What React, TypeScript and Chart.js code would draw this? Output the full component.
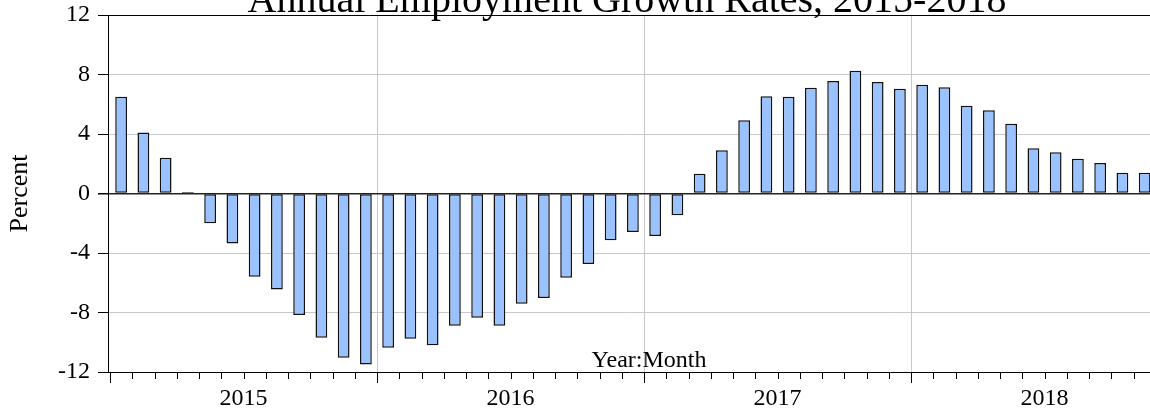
import React, { useEffect, useRef } from 'react';
import { Chart, registerables } from 'chart.js';

Chart.register(...registerables);

const months: string[] = [
  '2015-01', '2015-02', '2015-03', '2015-04', '2015-05', '2015-06', '2015-07', '2015-08', '2015-09', '2015-10', '2015-11', '2015-12',
  '2016-01', '2016-02', '2016-03', '2016-04', '2016-05', '2016-06', '2016-07', '2016-08', '2016-09', '2016-10', '2016-11', '2016-12',
  '2017-01', '2017-02', '2017-03', '2017-04', '2017-05', '2017-06', '2017-07', '2017-08', '2017-09', '2017-10', '2017-11', '2017-12',
  '2018-01', '2018-02', '2018-03', '2018-04', '2018-05', '2018-06', '2018-07', '2018-08', '2018-09', '2018-10', '2018-11',
];

const growth: number[] = [
  6.5, 4.1, 2.4, 0.1, -2.0, -3.36, -5.6, -6.45, -8.17, -9.7, -11.04, -11.5,
  -10.37, -9.76, -10.2, -8.89, -8.35, -8.89, -7.41, -7.03, -5.66, -4.74, -3.15, -2.59,
  -2.86, -1.47, 1.33, 2.9, 4.92, 6.53, 6.5, 7.11, 7.56, 8.26, 7.5, 7.05,
  7.31, 7.14, 5.9, 5.59, 4.69, 3.04, 2.77, 2.34, 2.05, 1.4, 1.4,
];

const yearLabels: string[] = ['2015', '2016', '2017', '2018'];
const yearLabelAt: number[] = [6, 18, 30, 42];
const yearBoundaries: number[] = [12, 24, 36];
const yTickValues: number[] = [-12, -8, -4, 0, 4, 8, 12];

const TITLE = 'Annual Employment Growth Rates, 2015-2018';
const X_TITLE = 'Year:Month';
const Y_TITLE = 'Percent';
const FONT = '"Liberation Serif", "Times New Roman", serif';

export default function App() {
  const ref = useRef<HTMLCanvasElement | null>(null);

  useEffect(() => {
    if (!ref.current) return;
    Chart.defaults.font.family = FONT;
    Chart.defaults.color = '#000';

    const extras = {
      id: 'extras',
      afterDraw(chart: any) {
        const ctx = chart.ctx;
        const xs = chart.scales.x;
        const area = chart.chartArea;
        ctx.save();
        ctx.strokeStyle = '#000';
        ctx.lineWidth = 1;
        xs.ticks.forEach((t: any) => {
          const px = Math.round(xs.getPixelForValue(t.value)) + 0.5;
          const len = t.value % 12 === 0 ? 11 : 7;
          ctx.beginPath();
          ctx.moveTo(px, area.bottom);
          ctx.lineTo(px, area.bottom + len);
          ctx.stroke();
        });
        ctx.fillStyle = '#000';
        ctx.textAlign = 'center';
        ctx.textBaseline = 'alphabetic';
        ctx.font = '40px ' + FONT;
        ctx.fillText(TITLE, (area.left + area.right) / 2 - 2, 12);
        ctx.font = '24px ' + FONT;
        ctx.fillText(X_TITLE, (area.left + area.right) / 2 + 20, area.bottom - 5);
        ctx.restore();
      },
    };

    const chart = new Chart(ref.current, {
      type: 'bar',
      data: {
        datasets: [
          {
            label: 'Growth',
            data: growth.map((v, i) => ({ x: i + 0.5, y: v })),
            backgroundColor: '#99c2ff',
            borderColor: '#111',
            borderWidth: 1.5,
            borderSkipped: false,
            barPercentage: 0.53,
            categoryPercentage: 1,
          },
        ],
      },
      options: {
        animation: false,
        responsive: false,
        devicePixelRatio: 1,
        layout: { padding: { top: 15, left: 0, right: 0, bottom: 0 } },
        plugins: {
          legend: { display: false },
          tooltip: { enabled: false },
          title: { display: false },
        },
        scales: {
          x: {
            type: 'linear',
            min: -0.09,
            max: 46.74,
            offset: false,
            afterFit: (s: any) => {
              s.height = 41;
              s.paddingLeft = 0;
              s.paddingRight = 0;
            },
            afterBuildTicks: (s: any) => {
              s.ticks = months.map((_, i) => ({ value: i }));
            },
            ticks: {
              autoSkip: false,
              maxRotation: 0,
              padding: 12,
              font: { size: 24 },
              color: '#000',
              callback: (value: any) => {
                const idx = yearLabelAt.indexOf(Number(value));
                return idx >= 0 ? yearLabels[idx] : '';
              },
            },
            grid: {
              offset: false,
              drawTicks: false,
              color: (c: any) => (c.tick && yearBoundaries.includes(c.tick.value) ? '#c8c8c8' : 'rgba(0,0,0,0)'),
            },
            border: { display: true, color: '#000', width: 1 },
          },
          y: {
            min: -12,
            max: 12,
            z: 1,
            afterFit: (s: any) => {
              s.width = 108;
              s.paddingTop = 0;
              s.paddingBottom = 0;
            },
            afterBuildTicks: (s: any) => {
              s.ticks = yTickValues.map((v) => ({ value: v }));
            },
            ticks: {
              padding: 8,
              font: { size: 24 },
              color: '#000',
            },
            grid: {
              tickLength: 10,
              tickColor: '#000',
              lineWidth: (c: any) => (c.tick && c.tick.value === 0 ? 1.5 : 1),
              color: (c: any) => {
                const v = c.tick ? c.tick.value : null;
                if (v === 12) return '#000';
                if (v === 0) return '#222';
                if (v === -12) return 'rgba(0,0,0,0)';
                return '#c8c8c8';
              },
            },
            border: { display: true, color: '#000', width: 1 },
            title: {
              display: true,
              text: Y_TITLE,
              font: { size: 26 },
              color: '#000',
              padding: { top: 5, bottom: 0 },
            },
          },
        },
      },
      plugins: [extras],
    });

    return () => chart.destroy();
  }, []);

  return (
    <div style={{ position: 'fixed', left: 0, top: 0, width: 1150, height: 413, background: '#fff', overflow: 'hidden' }}>
      <canvas ref={ref} width={1150} height={413} style={{ display: 'block' }} />
    </div>
  );
}
